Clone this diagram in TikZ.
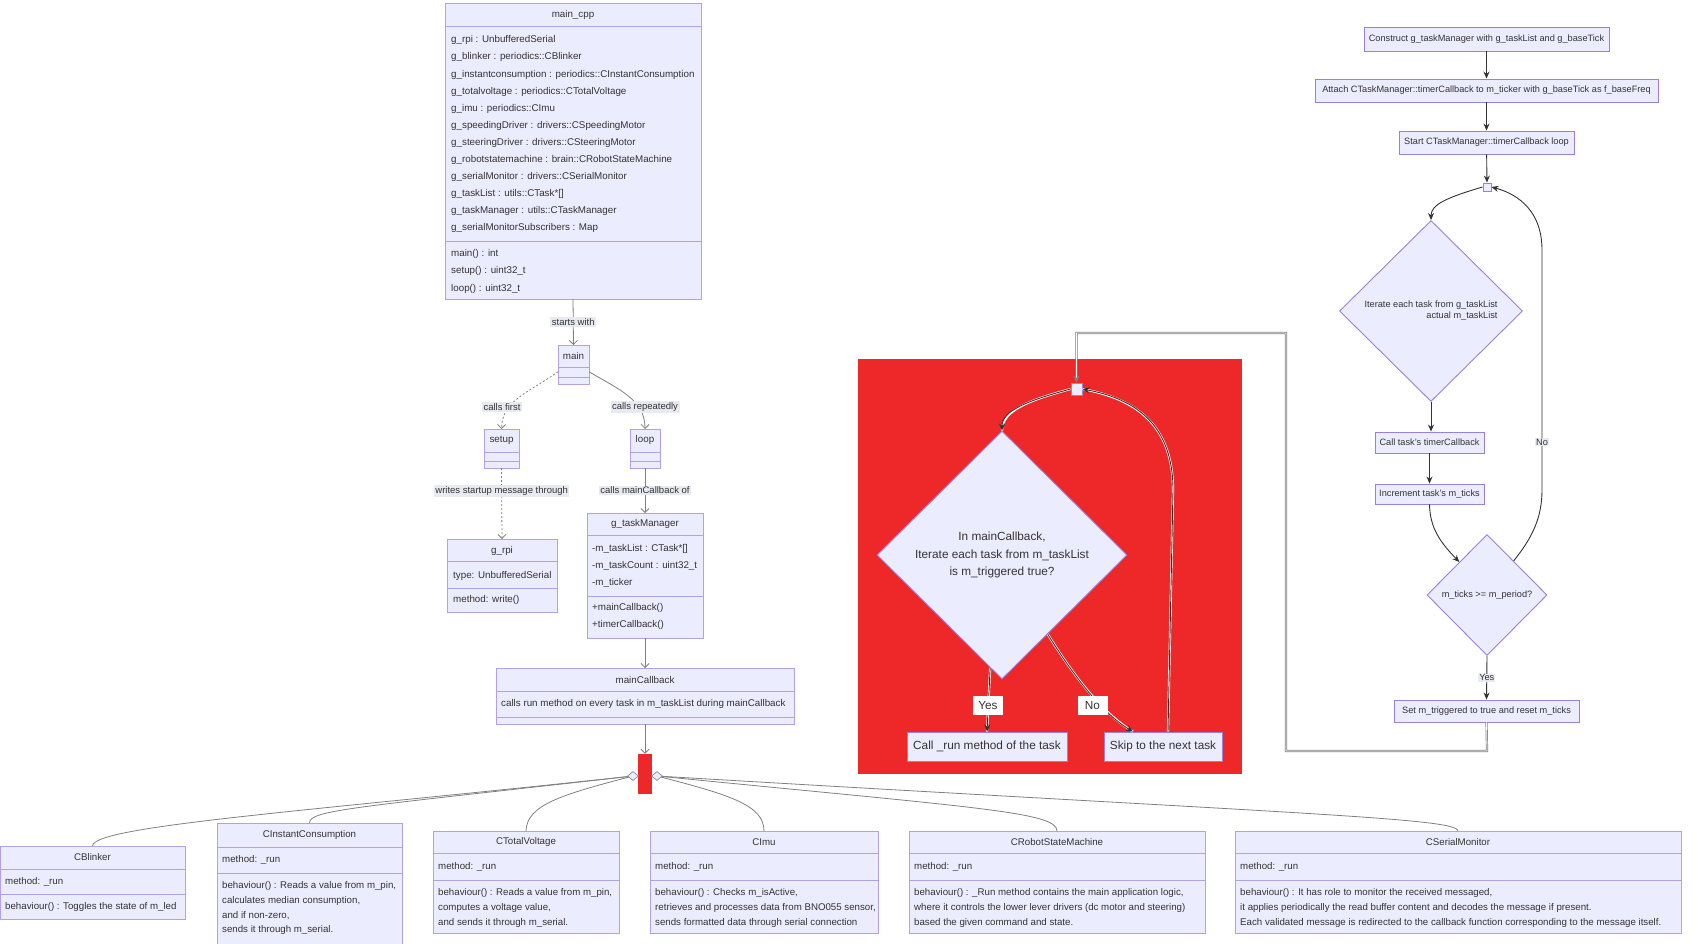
\documentclass[tikz,border=0pt]{standalone}
\usepackage{fontspec}
\setmainfont{Liberation Sans}
\usetikzlibrary{arrows.meta,shapes.geometric,calc}

\definecolor{boxfill}{HTML}{ECECFF}
\definecolor{boxline}{HTML}{B3A0E6}
\definecolor{flowline}{HTML}{9A80DD}
\definecolor{inkgray}{HTML}{333333}
\definecolor{edgegray}{HTML}{808080}
\definecolor{labelbg}{HTML}{E9E9F1}
\definecolor{clusterred}{HTML}{EE2828}

\tikzset{
  classbox/.style={draw=boxline, fill=boxfill, line width=0.9pt, inner sep=0pt, outer sep=0pt},
  classsep/.style={draw=boxline, line width=0.9pt},
  classtitle/.style={font=\fontsize{9.8}{11}\selectfont, text=inkgray, inner sep=0pt},
  classrow/.style={font=\fontsize{9.8}{11}\selectfont, text=inkgray, inner sep=0pt, anchor=west},
  classlines/.style={anchor=north west, align=left, inner sep=0pt, text=inkgray},
  lowtitle/.style={font=\fontsize{9.7}{11}\selectfont, text=inkgray, inner sep=0pt},
  lowrow/.style={font=\fontsize{9.7}{11}\selectfont, text=inkgray, inner sep=0pt, anchor=west},
  lowlines/.style={classlines, font=\fontsize{9.7}{14.7}\selectfont},
  classedge/.style={draw=edgegray, line width=0.8pt, -{Straight Barb[length=4pt,width=8pt]}},
  dotedge/.style={classedge, dash pattern=on 2pt off 2pt},
  edgelabel/.style={fill=labelbg, font=\fontsize{9.5}{11}\selectfont, text=inkgray, inner sep=1.5pt},
  aggedge/.style={draw=edgegray, line width=0.8pt},
  aggdiamond/.style={diamond, draw=edgegray, fill=boxfill, minimum width=11pt, minimum height=9pt, inner sep=0pt, line width=0.6pt},
  flowbox/.style={draw=flowline, fill=boxfill, line width=0.9pt, inner sep=0pt, text=inkgray, font=\fontsize{9.2}{11}\selectfont},
  redbox/.style={flowbox, font=\fontsize{11.8}{17.5}\selectfont},
  flowedge/.style={draw=inkgray, line width=0.9pt, -{Stealth[length=7pt,width=6pt]}},
  rededge/.style={flowedge, preaction={draw=white, line width=2.2pt, -}},
  flowlabel/.style={fill=labelbg, text=inkgray, font=\fontsize{9.2}{11}\selectfont, inner sep=1pt},
  yesno/.style={fill=white, text=inkgray, font=\fontsize{11.8}{13}\selectfont, inner sep=0pt, minimum width=30pt, minimum height=19pt}
}

\begin{document}
\begin{tikzpicture}[x=1pt,y=-1pt]
\path[use as bounding box] (0,0) rectangle (1699,943);

\node[classbox, minimum width=256pt, minimum height=296pt] (maincpp) at (573,151) {};
\node[classtitle] at (573,15) {main\_cpp};
\draw[classsep] (445,26) -- (701,26);
\draw[classsep] (445,241) -- (701,241);
\node[classlines, font=\fontsize{9.8}{17.1}\selectfont] at (451,35.5) {g\_rpi : UnbufferedSerial\\g\_blinker : periodics::CBlinker\\g\_instantconsumption : periodics::CInstantConsumption\\g\_totalvoltage : periodics::CTotalVoltage\\g\_imu : periodics::CImu\\g\_speedingDriver : drivers::CSpeedingMotor\\g\_steeringDriver : drivers::CSteeringMotor\\g\_robotstatemachine : brain::CRobotStateMachine\\g\_serialMonitor : drivers::CSerialMonitor\\g\_taskList : utils::CTask*[]\\g\_taskManager : utils::CTaskManager\\g\_serialMonitorSubscribers : Map};
\node[classlines, font=\fontsize{9.8}{17.1}\selectfont] at (451,249.5) {main() : int\\setup() : uint32\_t\\loop() : uint32\_t};

\node[classbox, minimum width=31pt, minimum height=39pt] (main) at (573.5,364.5) {};
\node[classtitle] at (573.5,356) {main};
\draw[classsep] (558,367) -- (589,367);
\draw[classsep] (558,377) -- (589,377);

\node[classbox, minimum width=35pt, minimum height=39pt] (setup) at (501.5,448.5) {};
\node[classtitle] at (501.5,440) {setup};
\draw[classsep] (484,452) -- (519,452);
\draw[classsep] (484,461) -- (519,461);

\node[classbox, minimum width=30pt, minimum height=39pt] (loop) at (645,448.5) {};
\node[classtitle] at (645,440) {loop};
\draw[classsep] (630,452) -- (660,452);
\draw[classsep] (630,461) -- (660,461);

\node[classbox, minimum width=110pt, minimum height=73pt] (grpi) at (502,575.5) {};
\node[classtitle] at (502,551) {g\_rpi};
\draw[classsep] (447,561) -- (557,561);
\draw[classsep] (447,588) -- (557,588);
\node[classrow] at (453,576) {type: UnbufferedSerial};
\node[classrow] at (453,600) {method: write()};

\node[classbox, minimum width=116pt, minimum height=125pt] (taskmgr) at (645,575.5) {};
\node[classtitle] at (645,524) {g\_taskManager};
\draw[classsep] (587,535) -- (703,535);
\draw[classsep] (587,596) -- (703,596);
\node[classlines, font=\fontsize{9.8}{17}\selectfont] at (592,544.5) {-m\_taskList : CTask*[]\\-m\_taskCount : uint32\_t\\-m\_ticker};
\node[classlines, font=\fontsize{9.8}{17}\selectfont] at (592,603.5) {+mainCallback()\\+timerCallback()};

\node[classbox, minimum width=298pt, minimum height=56pt] (maincb) at (645,696) {};
\node[classtitle] at (645,679.5) {mainCallback};
\draw[classsep] (496,691) -- (794,691);
\draw[classsep] (496,717) -- (794,717);
\node[classrow] at (501,704) {calls run method on every task in m\_taskList during mainCallback};

\node[fill=clusterred, minimum width=14pt, minimum height=40pt, inner sep=0pt] (fork) at (645,774) {};

\draw[classedge] (maincpp.south) -- node[edgelabel] {starts with} (main.north);
\draw[dotedge] (main.205) .. controls (530,392) and (502,400) .. (setup.north);
\node[edgelabel] at (502,407) {calls first};
\draw[classedge] (main.335) .. controls (620,390) and (645,400) .. (loop.north);
\node[edgelabel] at (645,407) {calls repeatedly};
\draw[dotedge] (setup.south) -- node[edgelabel, pos=0.32] {writes startup message through} (grpi.north);
\draw[classedge] (loop.south) -- node[edgelabel] {calls mainCallback of} (taskmgr.north);
\draw[classedge] (taskmgr.south) -- (maincb.north);
\draw[classedge] (maincb.south) -- (fork.north);

\node[classbox, minimum width=185pt, minimum height=73pt] (blinker) at (92.5,882.5) {};
\node[lowtitle] at (92.5,857) {CBlinker};
\draw[classsep] (0,869) -- (185,869);
\draw[classsep] (0,894) -- (185,894);
\node[lowrow] at (5,882) {method: \_run};
\node[lowrow] at (5,906.5) {behaviour() : Toggles the state of m\_led};

\node[classbox, minimum width=185pt, minimum height=122pt] (instant) at (309.5,884) {};
\node[lowtitle] at (309.5,835) {CInstantConsumption};
\draw[classsep] (217,847) -- (402,847);
\draw[classsep] (217,873) -- (402,873);
\node[lowrow] at (222,860) {method: \_run};
\node[lowlines] at (222,881.5) {behaviour() : Reads a value from m\_pin,\\calculates median consumption,\\and if non-zero,\\sends it through m\_serial.};

\node[classbox, minimum width=186pt, minimum height=102pt] (voltage) at (526,882) {};
\node[lowtitle] at (526,842) {CTotalVoltage};
\draw[classsep] (433,853) -- (619,853);
\draw[classsep] (433,880) -- (619,880);
\node[lowrow] at (438,867) {method: \_run};
\node[lowlines] at (438,888.5) {behaviour() : Reads a value from m\_pin,\\computes a voltage value,\\and sends it through m\_serial.};

\node[classbox, minimum width=228pt, minimum height=102pt] (imu) at (764,882) {};
\node[lowtitle] at (764,842) {CImu};
\draw[classsep] (650,853) -- (878,853);
\draw[classsep] (650,880) -- (878,880);
\node[lowrow] at (655,867) {method: \_run};
\node[lowlines] at (655,888.5) {behaviour() : Checks m\_isActive,\\retrieves and processes data from BNO055 sensor,\\sends formatted data through serial connection};

\node[classbox, minimum width=296pt, minimum height=102pt] (robot) at (1057,882) {};
\node[lowtitle] at (1057,842) {CRobotStateMachine};
\draw[classsep] (909,853) -- (1205,853);
\draw[classsep] (909,880) -- (1205,880);
\node[lowrow] at (914,867) {method: \_run};
\node[lowlines] at (914,888.5) {behaviour() : \_Run method contains the main application logic,\\where it controls the lower lever drivers (dc motor and steering)\\based the given command and state.};

\node[classbox, minimum width=446pt, minimum height=102pt] (serial) at (1458,882) {};
\node[lowtitle] at (1458,842) {CSerialMonitor};
\draw[classsep] (1235,853) -- (1681,853);
\draw[classsep] (1235,880) -- (1681,880);
\node[lowrow] at (1240,867) {method: \_run};
\node[lowlines] at (1240,888.5) {behaviour() : It has role to monitor the received messaged,\\it applies periodically the read buffer content and decodes the message if present.\\Each validated message is redirected to the callback function corresponding to the message itself.};

\draw[aggedge] (633,776) .. controls (300,812) and (93,826) .. (blinker.north);
\draw[aggedge] (633,776) .. controls (350,808) and (310,810) .. (instant.north);
\draw[aggedge] (633,776) .. controls (560,795) and (527,805) .. (voltage.north);
\draw[aggedge] (657,776) .. controls (730,795) and (764,805) .. (imu.north);
\draw[aggedge] (657,776) .. controls (980,808) and (1057,812) .. (robot.north);
\draw[aggedge] (657,776) .. controls (1300,814) and (1458,818) .. (serial.north);
\node[aggdiamond] (aggleft) at (633,776) {};
\node[aggdiamond] (aggright) at (657,776) {};

\fill[clusterred] (858,359) rectangle (1242,774);
\node[flowbox, minimum width=11pt, minimum height=12pt] (loopjoin) at (1076.5,389) {};
\node[redbox, diamond, minimum width=250pt, minimum height=248pt, align=center] (trigq) at (1002,555) {In mainCallback,\\Iterate each task from m\_taskList\\is m\_triggered true?};
\node[redbox, minimum width=160pt, minimum height=29pt] (callrun) at (987,746.5) {Call \_run method of the task};
\node[redbox, minimum width=118pt, minimum height=29pt] (skipnext) at (1163,746.5) {Skip to the next task};

\draw[rededge] (loopjoin.west) .. controls (1030,400) and (1002,410) .. (trigq.north);
\draw[rededge] (trigq.264) -- (callrun.north);
\node[yesno] at (988,705.5) {Yes};
\draw[rededge] (trigq.300) .. controls (1070,670) and (1100,712) .. ($(skipnext.north)+(-30,0)$);
\node[yesno] at (1092.5,705.5) {No};
\draw[rededge] ($(skipnext.north)+(5,0)$) -- (1173,490) .. controls (1173,420) and (1130,398) .. (loopjoin.east);

\node[flowbox, minimum width=245pt, minimum height=24pt] (construct) at (1486.5,39) {Construct g\_taskManager with g\_taskList and g\_baseTick};
\node[flowbox, minimum width=343pt, minimum height=23pt] (attach) at (1486.5,90.5) {Attach CTaskManager::timerCallback to m\_ticker with g\_baseTick as f\_baseFreq};
\node[flowbox, minimum width=175pt, minimum height=23pt] (startloop) at (1486.5,142.5) {Start CTaskManager::timerCallback loop};
\node[flowbox, minimum width=8pt, minimum height=8pt] (tickjoin) at (1487,187) {};
\node[flowbox, diamond, minimum width=183pt, minimum height=181pt, align=right] (iterq) at (1431,311) {Iterate each task from g\_taskList\\actual m\_taskList};
\node[flowbox, minimum width=109pt, minimum height=21pt] (calltimer) at (1429.5,442.5) {Call task's timerCallback};
\node[flowbox, minimum width=109pt, minimum height=20pt] (incticks) at (1429.5,494) {Increment task's m\_ticks};
\node[flowbox, diamond, minimum width=120pt, minimum height=121pt] (periodq) at (1487,595) {m\_ticks >= m\_period?};
\node[flowbox, minimum width=185pt, minimum height=22pt] (settrig) at (1486.5,711) {Set m\_triggered to true and reset m\_ticks};

\draw[flowedge] (construct) -- (attach);
\draw[flowedge] (attach) -- (startloop);
\draw[flowedge] (startloop) -- (tickjoin);
\draw[flowedge] (tickjoin.west) .. controls (1445,198) and (1431,205) .. (iterq.north);
\draw[flowedge] (iterq.south) -- (iterq.south |- calltimer.north);
\draw[flowedge] (calltimer) -- (incticks);
\draw[flowedge] (incticks.south) .. controls (1430,528) and (1440,542) .. (periodq.130);
\draw[flowedge] (periodq.south) -- node[flowlabel] {Yes} (settrig.north);
\draw[flowedge] (periodq.52) .. controls (1532,538) and (1542,518) .. (1542,490) -- node[flowlabel, pos=0.2] {No} (1542,250) .. controls (1542,205) and (1510,192) .. (tickjoin.east);

\draw[flowedge, draw=edgegray, double=white, double distance=0.8pt, line width=0.7pt] (settrig.south) -- (1487,751) -- (1286,751) -- (1286,333) -- (1076.5,333) -- (loopjoin.north);
\end{tikzpicture}
\end{document}
